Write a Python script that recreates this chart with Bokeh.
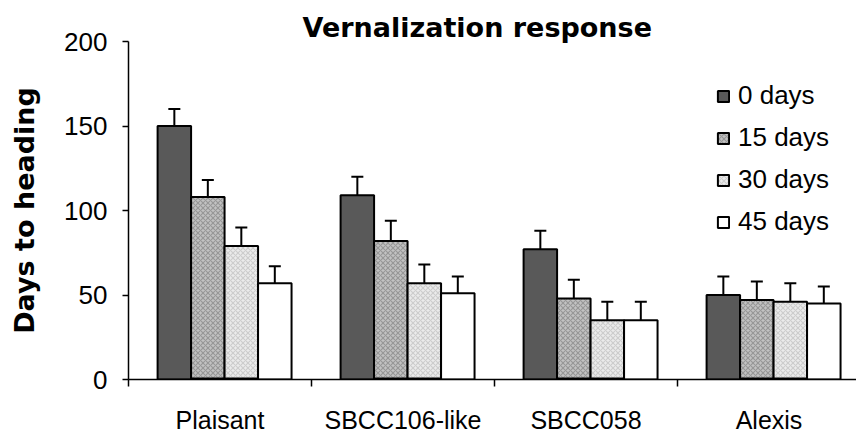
from bokeh.plotting import figure
from bokeh.models import (Range1d, FixedTicker, Legend, LegendItem,
                          ColumnDataSource, Whisker, TeeHead)
from bokeh.embed import file_html
from bokeh.resources import INLINE

# ---- data ----
categories = ["Plaisant", "SBCC106-like", "SBCC058", "Alexis"]
series_names = ["0 days", "15 days", "30 days", "45 days"]
days0 = [150, 109, 77, 50]
days15 = [108, 82, 48, 47]
days30 = [79, 57, 35, 46]
days45 = [57, 51, 35, 45]
err0 = [10, 11, 11, 11]
err15 = [10, 12, 11, 11]
err30 = [11, 11, 11, 11]
err45 = [10, 10, 11, 10]
y_ticks = [0, 50, 100, 150, 200]

values = [days0, days15, days30, days45]
errors = [err0, err15, err30, err45]

# ---- style ----
FONT = "Liberation Sans"
BOLD_FONT = "DejaVu Sans"
group_center = 0.525
bar_w = 0.183
offsets = [-1.5 * bar_w, -0.5 * bar_w, 0.5 * bar_w, 1.5 * bar_w]
styles = [
    dict(fill_color="#595959"),
    dict(fill_color="#c2c2c2", hatch_pattern="diagonal_cross", hatch_color="#979797",
         hatch_scale=5, hatch_weight=1.2),
    dict(fill_color="#ebebeb", hatch_pattern="diagonal_cross", hatch_color="#cdcdcd",
         hatch_scale=5, hatch_weight=1.2),
    dict(fill_color="#ffffff"),
]

W, H = 856, 441
frame_left = 128
frame_top = 41
frame_bottom = 379
cat_px = 183.0

p = figure(width=W, height=H, output_backend="svg", toolbar_location=None,
           x_range=Range1d(0, (W - frame_left) / cat_px), y_range=Range1d(0, 200),
           min_border_left=frame_left, min_border_right=0,
           min_border_top=frame_top, min_border_bottom=H - frame_bottom)
p.xgrid.visible = False
p.ygrid.visible = False
p.outline_line_color = None
p.background_fill_color = "white"
p.border_fill_color = "white"

renderers = []
for k in range(4):
    xs = [i + group_center + offsets[k] for i in range(len(categories))]
    src = ColumnDataSource(dict(x=xs, top=values[k],
                                upper=[v + e for v, e in zip(values[k], errors[k])]))
    r = p.vbar(x="x", top="top", bottom=0, width=bar_w, source=src,
               line_color="black", line_width=2, **styles[k])
    renderers.append(r)
    w = Whisker(base="x", lower="top", upper="upper", source=src, dimension="height",
                line_color="black", line_width=2,
                upper_head=TeeHead(size=12, line_color="black", line_width=2),
                lower_head=None)
    p.add_layout(w)

# thick baseline under the hatched bars
bx0 = [i + group_center + offsets[1] - bar_w / 2 for i in range(len(categories))]
bx1 = [i + group_center + offsets[2] + bar_w / 2 for i in range(len(categories))]
p.segment(x0=bx0, x1=bx1, y0=[0] * 4, y1=[0] * 4, line_color="black", line_width=4)

# x axis: labels at category centres, tick marks at category boundaries
xa = p.xaxis[0]
xa.ticker = FixedTicker(ticks=[i + 0.5 for i in range(len(categories))],
                        minor_ticks=list(range(len(categories) + 1)))
xa.major_label_overrides = {i + 0.5: c for i, c in enumerate(categories)}
xa.major_tick_in = 0
xa.major_tick_out = 0
xa.minor_tick_in = 0
xa.minor_tick_out = 7
xa.minor_tick_line_color = "black"
xa.minor_tick_line_width = 1.5
xa.axis_line_color = "black"
xa.axis_line_width = 1.5
xa.major_label_text_font = FONT
xa.major_label_text_font_size = "25px"
xa.major_label_text_color = "black"
xa.major_label_standoff = 19

ya = p.yaxis[0]
ya.ticker = FixedTicker(ticks=y_ticks)
ya.minor_tick_line_color = None
ya.major_tick_in = 0
ya.major_tick_out = 6
ya.major_tick_line_width = 1.5
ya.axis_line_width = 1.5
ya.major_label_text_font = FONT
ya.major_label_text_font_size = "26px"
ya.major_label_text_color = "black"
ya.major_label_standoff = 15
ya.axis_label = "Days to heading"
ya.axis_label_text_font = BOLD_FONT
ya.axis_label_text_font_style = "bold"
ya.axis_label_text_font_size = "27px"
ya.axis_label_text_color = "black"
ya.axis_label_standoff = 21

# main title
p.title.text = "Vernalization response"
p.title.align = "left"
p.title.offset = 174
p.title.standoff = -2
p.title.text_font = BOLD_FONT
p.title.text_font_style = "bold"
p.title.text_font_size = "27px"
p.title.text_color = "black"

legend = Legend(items=[LegendItem(label=n, renderers=[r]) for n, r in zip(series_names, renderers)],
                location=(588, 142), orientation="vertical",
                label_text_font=FONT, label_text_font_size="26px", label_text_color="black",
                glyph_width=14, glyph_height=14, label_height=14, spacing=11,
                padding=0, margin=0, label_standoff=8,
                border_line_color=None, background_fill_alpha=0)
p.add_layout(legend)

open("out.html", "w").write(file_html(p, INLINE))
